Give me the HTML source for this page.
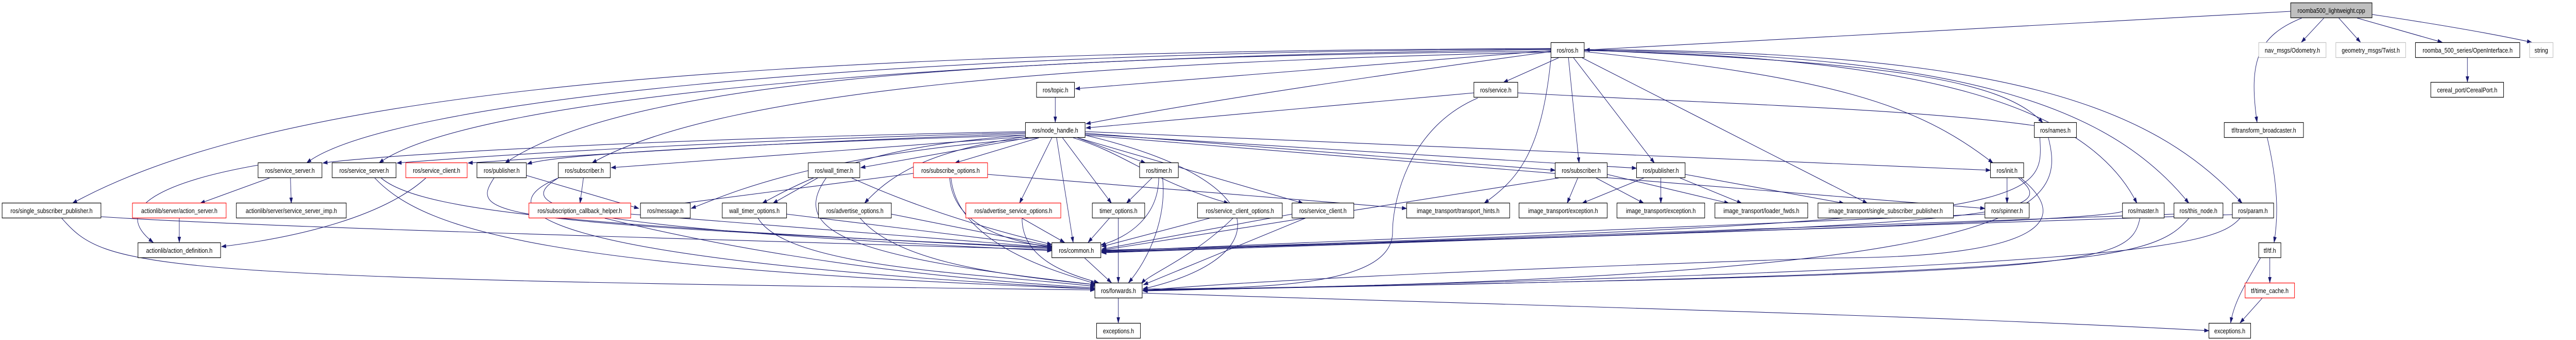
<!DOCTYPE html>
<html><head><meta charset="utf-8"><style>
html,body{margin:0;padding:0;background:#fff;width:100vw;height:100vh;overflow:hidden;}
svg{display:block;width:100vw;height:100vh;}
text{font-family:"Liberation Sans",sans-serif;font-size:13px;fill:#000;}
</style></head><body>
<svg viewBox="0 0 6049 659" preserveAspectRatio="none" xmlns="http://www.w3.org/2000/svg">
<defs><marker id="a" markerWidth="12" markerHeight="8" refX="11" refY="4" orient="auto" markerUnits="userSpaceOnUse"><path d="M0,0 L12,4 L0,8 z" fill="#191970"/></marker></defs>
<g fill="none" stroke="#191970" stroke-width="1.1" marker-end="url(#a)">
<path d="M5379,22 L3722,97"/>
<path d="M5405,35 C5300,70 5280,120 5300,237"/>
<path d="M5457,35 L5404,82"/>
<path d="M5492,35 L5543,82"/>
<path d="M5535,35 L5735,82"/>
<path d="M5570,28 C5750,50 5880,70 5945,82"/>
<path d="M5794,112 L5794,159"/>
<path d="M5324,267 C5350,360 5350,420 5340,470"/>
<path d="M5330,500 L5330,548"/>
<path d="M5308,500 C5265,560 5245,590 5238,626"/>
<path d="M5312,578 L5260,626"/>
<path d="M2626,578 L2626,626"/>
<path d="M2682,568 C3500,590 4500,610 5187,641"/>
<path d="M2547,500 L2610,548"/>
<path d="M3642,98 L2525,172"/>
<path d="M3660,112 L3530,160"/>
<path d="M3642,100 C3200,150 2800,200 2550,240"/>
<path d="M3642,95 C2000,100 900,200 720,316"/>
<path d="M3642,96 C2200,110 1100,190 890,316"/>
<path d="M3642,94 C1500,100 600,200 170,394"/>
<path d="M3642,99 C2500,110 1500,140 1186,316"/>
<path d="M3642,101 C2600,120 1700,170 1390,316"/>
<path d="M3683,112 L3708,316"/>
<path d="M3695,112 L3885,316"/>
<path d="M3715,112 L4385,394"/>
<path d="M3720,100 C4300,150 4500,200 4680,316"/>
<path d="M3720,97 C4400,120 4700,150 4797,238"/>
<path d="M3720,98 C4500,110 4900,200 5018,394"/>
<path d="M3720,97 C4600,105 4950,200 5140,394"/>
<path d="M3720,96 C4700,100 5050,200 5265,394"/>
<path d="M3642,112 C3620,300 3560,350 3485,394"/>
<path d="M3461,180 L2550,248"/>
<path d="M3470,190 C3300,250 3270,400 3270,450 C3270,550 3000,560 2684,560"/>
<path d="M3564,180 C4000,200 4500,210 4790,245"/>
<path d="M2478,189 L2478,237"/>
<path d="M2408,255 C1500,270 900,300 758,316"/>
<path d="M2408,257 C1600,275 1100,305 932,316"/>
<path d="M2408,259 C1700,280 1300,305 1099,316"/>
<path d="M2408,262 C1700,280 1300,300 1238,318"/>
<path d="M2408,265 L1435,325"/>
<path d="M2440,267 C1900,300 1700,380 1623,404"/>
<path d="M2415,267 L2021,325"/>
<path d="M2440,267 L2242,316"/>
<path d="M2530,267 L2690,316"/>
<path d="M2495,267 L2610,394"/>
<path d="M2481,267 L2520,470"/>
<path d="M2470,267 L2394,394"/>
<path d="M2408,265 C2200,290 2100,330 2030,394"/>
<path d="M2408,262 C2100,280 1950,320 1790,394"/>
<path d="M2520,267 C2650,300 2700,350 2885,394"/>
<path d="M2530,267 L3060,394"/>
<path d="M2548,262 C3000,350 3000,500 2684,560"/>
<path d="M2548,258 L3652,330"/>
<path d="M2548,260 L3843,326"/>
<path d="M2548,255 L4674,330"/>
<path d="M2548,262 L4661,404"/>
<path d="M606,320 C400,350 250,400 360,470"/>
<path d="M633,345 L470,394"/>
<path d="M682,345 L684,394"/>
<path d="M880,345 C1000,450 1300,520 2571,560"/>
<path d="M895,345 C1000,420 1500,440 2470,482"/>
<path d="M1000,345 C900,420 700,460 520,478"/>
<path d="M421,423 L421,470"/>
<path d="M145,423 C250,520 300,540 2571,562"/>
<path d="M237,420 C600,440 1500,460 2470,484"/>
<path d="M1160,345 C1100,420 1150,430 2470,480"/>
<path d="M1236,340 L1500,404"/>
<path d="M1370,345 L1362,394"/>
<path d="M1311,345 C1200,400 1300,440 2470,486"/>
<path d="M1311,345 C1150,400 1200,500 2571,560"/>
<path d="M1420,423 C1800,500 2200,540 2571,558"/>
<path d="M1481,415 L2470,480"/>
<path d="M1780,423 C1850,520 2300,530 2571,555"/>
<path d="M1847,415 L2470,478"/>
<path d="M2093,415 L2470,477"/>
<path d="M2020,423 C2100,500 2300,530 2575,552"/>
<path d="M2400,423 L2500,470"/>
<path d="M2400,423 C2400,500 2500,530 2580,548"/>
<path d="M1920,345 L1815,394"/>
<path d="M1940,345 C1850,450 2000,500 2575,552"/>
<path d="M2000,345 C2200,420 2400,460 2470,474"/>
<path d="M2145,336 L1510,404"/>
<path d="M2230,345 C2240,450 2400,470 2470,480"/>
<path d="M2233,345 C2250,480 2500,530 2572,550"/>
<path d="M2319,338 L3303,404"/>
<path d="M2705,345 L2645,394"/>
<path d="M2721,345 C2720,420 2650,460 2585,475"/>
<path d="M2730,345 C2740,420 2700,500 2650,548"/>
<path d="M2605,423 L2555,470"/>
<path d="M2626,423 L2626,548"/>
<path d="M2840,423 L2587,478"/>
<path d="M2895,423 C2800,500 2700,530 2680,550"/>
<path d="M3034,415 L2587,483"/>
<path d="M3065,423 L2685,552"/>
<path d="M3705,345 L3680,394"/>
<path d="M3748,345 L3860,394"/>
<path d="M3774,338 L4060,394"/>
<path d="M3660,345 L2587,485"/>
<path d="M3860,345 L3715,394"/>
<path d="M3900,345 L3900,394"/>
<path d="M3945,345 L4090,394"/>
<path d="M3957,338 L4330,394"/>
<path d="M4713,345 L4713,394"/>
<path d="M4740,345 C4850,420 4700,440 2587,485"/>
<path d="M4745,345 C4900,450 4700,500 4300,500 C3600,520 3000,540 2684,563"/>
<path d="M4661,415 L2587,487"/>
<path d="M4790,267 C4800,400 4800,430 2587,486"/>
<path d="M4810,267 C4850,400 4820,540 2684,562"/>
<path d="M4984,410 C4900,430 4000,450 2587,488"/>
<path d="M5025,423 C5000,520 4900,530 2684,562"/>
<path d="M5105,415 L2587,489"/>
<path d="M5140,423 C5050,510 4900,530 2684,563"/>
<path d="M5242,416 L2587,490"/>
<path d="M5260,423 C5200,480 5000,520 2684,564"/>
</g>
<g stroke-width="1.2">
<rect x="5379" y="5.5" width="191" height="29" fill="#bfbfbf" stroke="#000"/><text x="5474.5" y="25" text-anchor="middle">roomba500_lightweight.cpp</text>
<rect x="5304" y="82.5" width="158" height="29" fill="#fff" stroke="#bfbfbf"/><text x="5383" y="102" text-anchor="middle">nav_msgs/Odometry.h</text>
<rect x="5485" y="82.5" width="164" height="29" fill="#fff" stroke="#bfbfbf"/><text x="5567" y="102" text-anchor="middle">geometry_msgs/Twist.h</text>
<rect x="5672" y="82.5" width="245" height="29" fill="#fff" stroke="#000"/><text x="5794.5" y="102" text-anchor="middle">roomba_500_series/OpenInterface.h</text>
<rect x="5940" y="82.5" width="55" height="29" fill="#fff" stroke="#bfbfbf"/><text x="5967.5" y="102" text-anchor="middle">string</text>
<rect x="3642" y="82.5" width="78" height="29" fill="#fff" stroke="#000"/><text x="3681" y="102" text-anchor="middle">ros/ros.h</text>
<rect x="5708" y="159.5" width="171" height="29" fill="#fff" stroke="#000"/><text x="5793.5" y="179" text-anchor="middle">cereal_port/CerealPort.h</text>
<rect x="2434" y="159.5" width="89" height="29" fill="#fff" stroke="#000"/><text x="2478.5" y="179" text-anchor="middle">ros/topic.h</text>
<rect x="3461" y="159.5" width="103" height="29" fill="#fff" stroke="#000"/><text x="3512.5" y="179" text-anchor="middle">ros/service.h</text>
<rect x="2408" y="237.5" width="140" height="29" fill="#fff" stroke="#000"/><text x="2478" y="257" text-anchor="middle">ros/node_handle.h</text>
<rect x="4777" y="237.5" width="99" height="29" fill="#fff" stroke="#000"/><text x="4826.5" y="257" text-anchor="middle">ros/names.h</text>
<rect x="5223" y="237.5" width="186" height="29" fill="#fff" stroke="#000"/><text x="5316" y="257" text-anchor="middle">tf/transform_broadcaster.h</text>
<rect x="606" y="315.5" width="150" height="29" fill="#fff" stroke="#000"/><text x="681" y="335" text-anchor="middle">ros/service_server.h</text>
<rect x="780" y="315.5" width="150" height="29" fill="#fff" stroke="#000"/><text x="855" y="335" text-anchor="middle">ros/service_server.h</text>
<rect x="953" y="315.5" width="144" height="29" fill="#fff" stroke="#f00"/><text x="1025" y="335" text-anchor="middle">ros/service_client.h</text>
<rect x="1120" y="315.5" width="116" height="29" fill="#fff" stroke="#000"/><text x="1178" y="335" text-anchor="middle">ros/publisher.h</text>
<rect x="1311" y="315.5" width="122" height="29" fill="#fff" stroke="#000"/><text x="1372" y="335" text-anchor="middle">ros/subscriber.h</text>
<rect x="1898" y="315.5" width="121" height="29" fill="#fff" stroke="#000"/><text x="1958.5" y="335" text-anchor="middle">ros/wall_timer.h</text>
<rect x="2145" y="315.5" width="174" height="29" fill="#fff" stroke="#f00"/><text x="2232" y="335" text-anchor="middle">ros/subscribe_options.h</text>
<rect x="2676" y="315.5" width="91" height="29" fill="#fff" stroke="#000"/><text x="2721.5" y="335" text-anchor="middle">ros/timer.h</text>
<rect x="3652" y="315.5" width="122" height="29" fill="#fff" stroke="#000"/><text x="3713" y="335" text-anchor="middle">ros/subscriber.h</text>
<rect x="3843" y="315.5" width="114" height="29" fill="#fff" stroke="#000"/><text x="3900" y="335" text-anchor="middle">ros/publisher.h</text>
<rect x="4674" y="315.5" width="78" height="29" fill="#fff" stroke="#000"/><text x="4713" y="335" text-anchor="middle">ros/init.h</text>
<rect x="5" y="393.5" width="232" height="29" fill="#fff" stroke="#000"/><text x="121" y="413" text-anchor="middle">ros/single_subscriber_publisher.h</text>
<rect x="311" y="393.5" width="220" height="29" fill="#fff" stroke="#f00"/><text x="421" y="413" text-anchor="middle">actionlib/server/action_server.h</text>
<rect x="555" y="393.5" width="258" height="29" fill="#fff" stroke="#000"/><text x="684" y="413" text-anchor="middle">actionlib/server/service_server_imp.h</text>
<rect x="1242" y="393.5" width="239" height="29" fill="#fff" stroke="#f00"/><text x="1361.5" y="413" text-anchor="middle">ros/subscription_callback_helper.h</text>
<rect x="1504" y="393.5" width="117" height="29" fill="#fff" stroke="#000"/><text x="1562.5" y="413" text-anchor="middle">ros/message.h</text>
<rect x="1696" y="393.5" width="151" height="29" fill="#fff" stroke="#000"/><text x="1771.5" y="413" text-anchor="middle">wall_timer_options.h</text>
<rect x="1922" y="393.5" width="171" height="29" fill="#fff" stroke="#000"/><text x="2007.5" y="413" text-anchor="middle">ros/advertise_options.h</text>
<rect x="2268" y="393.5" width="223" height="29" fill="#fff" stroke="#f00"/><text x="2379.5" y="413" text-anchor="middle">ros/advertise_service_options.h</text>
<rect x="2565" y="393.5" width="123" height="29" fill="#fff" stroke="#000"/><text x="2626.5" y="413" text-anchor="middle">timer_options.h</text>
<rect x="2812" y="393.5" width="199" height="29" fill="#fff" stroke="#000"/><text x="2911.5" y="413" text-anchor="middle">ros/service_client_options.h</text>
<rect x="3034" y="393.5" width="145" height="29" fill="#fff" stroke="#000"/><text x="3106.5" y="413" text-anchor="middle">ros/service_client.h</text>
<rect x="3303" y="393.5" width="242" height="29" fill="#fff" stroke="#000"/><text x="3424" y="413" text-anchor="middle">image_transport/transport_hints.h</text>
<rect x="3567" y="393.5" width="207" height="29" fill="#fff" stroke="#000"/><text x="3670.5" y="413" text-anchor="middle">image_transport/exception.h</text>
<rect x="3797" y="393.5" width="206" height="29" fill="#fff" stroke="#000"/><text x="3900" y="413" text-anchor="middle">image_transport/exception.h</text>
<rect x="4027" y="393.5" width="218" height="29" fill="#fff" stroke="#000"/><text x="4136" y="413" text-anchor="middle">image_transport/loader_fwds.h</text>
<rect x="4269" y="393.5" width="318" height="29" fill="#fff" stroke="#000"/><text x="4428" y="413" text-anchor="middle">image_transport/single_subscriber_publisher.h</text>
<rect x="4661" y="393.5" width="104" height="29" fill="#fff" stroke="#000"/><text x="4713" y="413" text-anchor="middle">ros/spinner.h</text>
<rect x="4984" y="393.5" width="98" height="29" fill="#fff" stroke="#000"/><text x="5033" y="413" text-anchor="middle">ros/master.h</text>
<rect x="5105" y="393.5" width="115" height="29" fill="#fff" stroke="#000"/><text x="5162.5" y="413" text-anchor="middle">ros/this_node.h</text>
<rect x="5242" y="393.5" width="97" height="29" fill="#fff" stroke="#000"/><text x="5290.5" y="413" text-anchor="middle">ros/param.h</text>
<rect x="324" y="470.5" width="194" height="29" fill="#fff" stroke="#000"/><text x="421" y="490" text-anchor="middle">actionlib/action_definition.h</text>
<rect x="2470" y="470.5" width="115" height="29" fill="#fff" stroke="#000"/><text x="2527.5" y="490" text-anchor="middle">ros/common.h</text>
<rect x="5304" y="470.5" width="52" height="29" fill="#fff" stroke="#000"/><text x="5330" y="490" text-anchor="middle">tf/tf.h</text>
<rect x="2571" y="548.5" width="111" height="29" fill="#fff" stroke="#000"/><text x="2626.5" y="568" text-anchor="middle">ros/forwards.h</text>
<rect x="5272" y="548.5" width="116" height="29" fill="#fff" stroke="#f00"/><text x="5330" y="568" text-anchor="middle">tf/time_cache.h</text>
<rect x="2575" y="626.5" width="103" height="29" fill="#fff" stroke="#000"/><text x="2626.5" y="646" text-anchor="middle">exceptions.h</text>
<rect x="5187" y="626.5" width="98" height="29" fill="#fff" stroke="#000"/><text x="5236" y="646" text-anchor="middle">exceptions.h</text>
</g>
</svg>
</body></html>
